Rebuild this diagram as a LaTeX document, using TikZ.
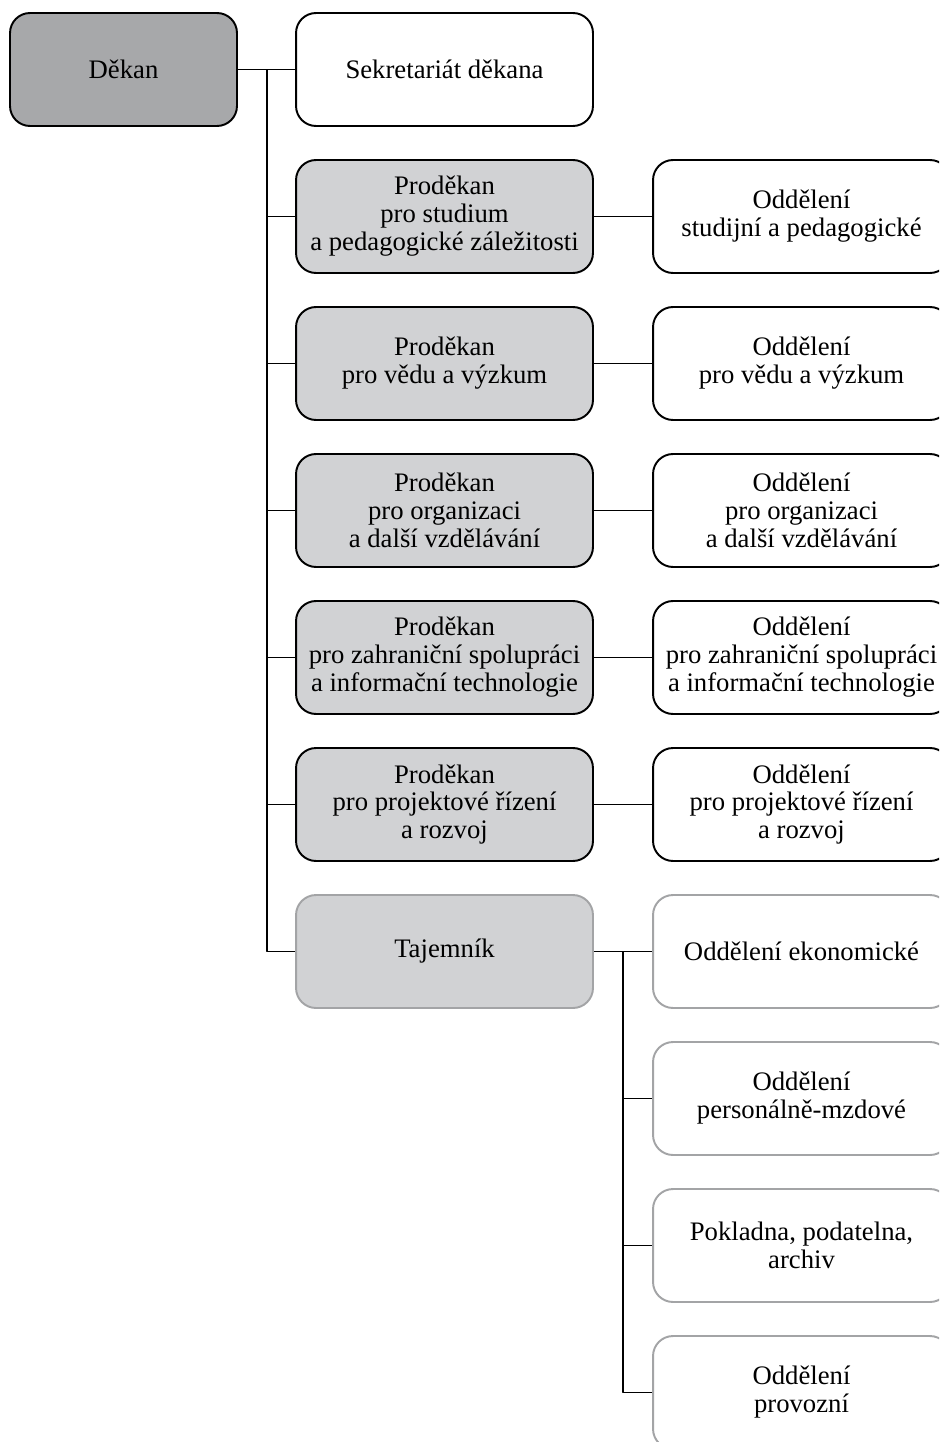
\documentclass[tikz,border=0pt]{standalone}
\usepackage{fontspec}
\setmainfont{Liberation Serif}
\usetikzlibrary{positioning,calc}

\definecolor{dark_gray}{HTML}{A7A8AA}
\definecolor{light_gray}{HTML}{D1D2D4}
\definecolor{pale_line}{HTML}{A3A4A6}

\begin{document}
\begin{tikzpicture}[x=0.02cm,y=-0.02cm,line join=round]
		\tikzstyle{org_box}=[draw, line width=1.1pt, rounded corners=0.4cm, minimum width=5.94cm, minimum height=2.26cm, align=center, inner sep=0pt, font=\fontsize{15.2}{15.9}\selectfont];
		\tikzstyle{dean_box}=[org_box, fill=dark_gray, minimum width=4.54cm];
		\tikzstyle{vice_box}=[org_box, fill=light_gray];
		\tikzstyle{office_box}=[org_box, fill=white];
		\tikzstyle{pale_box}=[org_box, draw=pale_line, fill=white];
		\tikzstyle{link}=[line width=0.8pt];

		\useasboundingbox (0,0) rectangle (939,1442);
		\clip (0,0) rectangle (939,1442);

		% left and middle column
		\node[dean_box] (dekan) at (123.5,69.5) {Děkan};
		\node[office_box] (sekr) at (444.5,69.5) {Sekretariát děkana};
		\node[vice_box] (pd_stud) at (444.5,216.5) {Proděkan\\pro studium\\a pedagogické záležitosti};
		\node[vice_box] (pd_veda) at (444.5,363.5) {Proděkan\\pro vědu a výzkum};
		\node[vice_box] (pd_org) at (444.5,510.5) {Proděkan\\pro organizaci\\a další vzdělávání};
		\node[vice_box] (pd_zahr) at (444.5,657.5) {Proděkan\\pro zahraniční spolupráci\\a informační technologie};
		\node[vice_box] (pd_proj) at (444.5,804.5) {Proděkan\\pro projektové řízení\\a rozvoj};
		\node[vice_box, draw=pale_line] (tajem) at (444.5,951.5) {Tajemník};

		% right column
		\node[office_box] (od_stud) at (801.5,216.5) {Oddělení\\studijní a pedagogické};
		\node[office_box] (od_veda) at (801.5,363.5) {Oddělení\\pro vědu a výzkum};
		\node[office_box] (od_org) at (801.5,510.5) {Oddělení\\pro organizaci\\a další vzdělávání};
		\node[office_box] (od_zahr) at (801.5,657.5) {Oddělení\\pro zahraniční spolupráci\\a informační technologie};
		\node[office_box] (od_proj) at (801.5,804.5) {Oddělení\\pro projektové řízení\\a rozvoj};
		\node[pale_box] (od_ekon) at (801.5,951.5) {Oddělení ekonomické};
		\node[pale_box] (od_pers) at (801.5,1098.5) {Oddělení\\personálně-mzdové};
		\node[pale_box] (od_pokl) at (801.5,1245.5) {Pokladna, podatelna,\\archiv};
		\node[pale_box] (od_prov) at (801.5,1392.5) {Oddělení\\provozní};

		% connectors
		\coordinate (trunk_dekan) at (267,69.5);
		\coordinate (trunk_tajem) at (623,951.5);

		\draw[link] (dekan.east) -- (sekr.west);
		\draw[link] (trunk_dekan) |- (pd_stud.west);
		\draw[link] (trunk_dekan) |- (pd_veda.west);
		\draw[link] (trunk_dekan) |- (pd_org.west);
		\draw[link] (trunk_dekan) |- (pd_zahr.west);
		\draw[link] (trunk_dekan) |- (pd_proj.west);
		\draw[link] (trunk_dekan) |- (tajem.west);

		\draw[link] (pd_stud.east) -- (od_stud.west);
		\draw[link] (pd_veda.east) -- (od_veda.west);
		\draw[link] (pd_org.east) -- (od_org.west);
		\draw[link] (pd_zahr.east) -- (od_zahr.west);
		\draw[link] (pd_proj.east) -- (od_proj.west);

		\draw[link] (tajem.east) -- (od_ekon.west);
		\draw[link] (trunk_tajem) |- (od_pers.west);
		\draw[link] (trunk_tajem) |- (od_pokl.west);
		\draw[link] (trunk_tajem) |- (od_prov.west);
\end{tikzpicture}
\end{document}
